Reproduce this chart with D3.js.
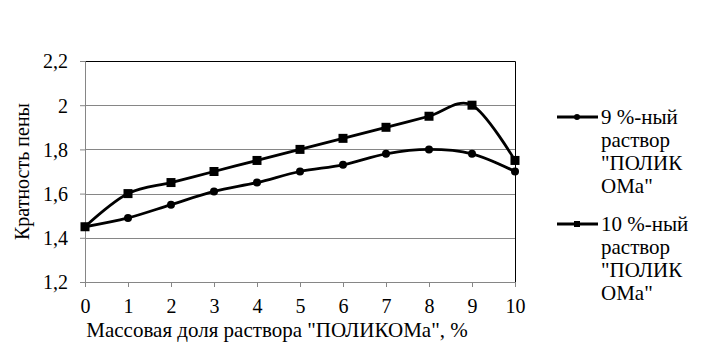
<!DOCTYPE html>
<html>
<head>
<meta charset="utf-8">
<script src="https://cdn.jsdelivr.net/npm/d3@7"></script>
</head>
<body style="margin:0">
<div id="chart"></div>
<script>
// chart data
const xValues = [0, 1, 2, 3, 4, 5, 6, 7, 8, 9, 10];
const series9 = [1.45, 1.49, 1.55, 1.61, 1.65, 1.70, 1.73, 1.78, 1.80, 1.78, 1.70];
const series10 = [1.45, 1.60, 1.65, 1.70, 1.75, 1.80, 1.85, 1.90, 1.95, 2.00, 1.75];
const yTicks = [1.2, 1.4, 1.6, 1.8, 2.0, 2.2];
const legendLabels = [
    ["9 %-ный", "раствор", "\"ПОЛИК", "ОМа\""],
    ["10 %-ный", "раствор", "\"ПОЛИК", "ОМа\""]
];

const serif = "Liberation Serif";

let margin = {left: 85, right: 193, top: 61, bottom: 78};
let width = 708 - margin.left - margin.right,
    height = 360 - margin.top - margin.bottom;

let svg = d3.select("#chart")
    .append("svg")
    .attr("width", 708)
    .attr("height", 360)
    .attr("font-family", serif);

svg.append("rect").attr("width", 708).attr("height", 360).attr("fill", "#fff");

let g = svg.append("g")
    .attr("transform", "translate(" + margin.left + ", " + margin.top + ")");

let x = d3.scaleLinear()
    .domain([0, 10])
    .range([0, width]);

let y = d3.scaleLinear()
    .domain([1.2, 2.2])
    .range([height, 0]);

let fmt = d => d3.format(".1f")(d).replace(".0", "").replace(".", ",");

// gridlines
g.selectAll(".grid")
    .data(yTicks.slice(1))
    .enter()
    .append("line")
    .attr("x1", 0)
    .attr("x2", width)
    .attr("y1", d => Math.round(y(d)) + 0.5)
    .attr("y2", d => Math.round(y(d)) + 0.5)
    .attr("stroke", "#868686")
    .attr("stroke-width", 1);

// plot border (top, right)
g.append("path")
    .attr("d", "M0.5,0.5H" + (width + 0.5) + "V" + height)
    .attr("fill", "none")
    .attr("stroke", "#000")
    .attr("stroke-width", 1);

let xAxis = g.append("g")
    .attr("transform", "translate(0," + height + ")")
    .call(d3.axisBottom(x).tickValues(xValues).tickSize(5).tickPadding(8));

let yAxis = g.append("g")
    .call(d3.axisLeft(y).tickValues(yTicks).tickSize(5).tickPadding(12).tickFormat(fmt));

[xAxis, yAxis].forEach(a => {
    a.attr("font-family", serif);
    a.select(".domain").attr("stroke", "#868686");
    a.selectAll(".tick line").attr("stroke", "#868686");
    a.selectAll("text")
        .attr("font-family", serif)
        .attr("font-size", "20px")
        .attr("fill", "#000");
});
xAxis.selectAll("text").attr("y", 31).attr("dy", 0);
yAxis.selectAll("text").attr("dy", "0.34em");

// axis titles
g.append("text")
    .attr("x", width / 2 - 23)
    .attr("y", height + 55)
    .attr("font-family", serif)
    .attr("font-size", "21px")
    .attr("text-anchor", "middle")
    .text("Массовая доля раствора \"ПОЛИКОМа\", %");

g.append("text")
    .attr("x", -(height / 2))
    .attr("y", -56)
    .attr("font-family", serif)
    .attr("font-size", "20px")
    .attr("text-anchor", "middle")
    .attr("transform", "rotate(-90)")
    .text("Кратность пены");

// lines
let line = d3.line()
    .x((d, i) => x(xValues[i]))
    .y(d => y(d))
    .curve(d3.curveCatmullRom.alpha(0));

[series9, series10].forEach(s => {
    g.append("path")
        .datum(s)
        .attr("fill", "none")
        .attr("stroke", "#000")
        .attr("stroke-width", 2.8)
        .attr("d", line);
});

g.selectAll(".dot9")
    .data(series9)
    .enter()
    .append("circle")
    .attr("cx", (d, i) => x(xValues[i]))
    .attr("cy", d => y(d))
    .attr("r", 4)
    .attr("fill", "#000");

g.selectAll(".sq10")
    .data(series10)
    .enter()
    .append("rect")
    .attr("x", (d, i) => x(xValues[i]) - 4.5)
    .attr("y", d => y(d) - 4.5)
    .attr("width", 9)
    .attr("height", 9)
    .attr("fill", "#000");

// legend
let legend = svg.append("g");
let legendTop = [117, 224];
legendLabels.forEach((lines, k) => {
    let ly = legendTop[k];
    legend.append("line")
        .attr("x1", 557).attr("x2", 598)
        .attr("y1", ly).attr("y2", ly)
        .attr("stroke", "#000")
        .attr("stroke-width", 2.8);
    if (k === 0) {
        legend.append("circle").attr("cx", 577).attr("cy", ly).attr("r", 3).attr("fill", "#000");
    } else {
        legend.append("rect").attr("x", 574).attr("y", ly - 3).attr("width", 6).attr("height", 6).attr("fill", "#000");
    }
    lines.forEach((t, j) => {
        legend.append("text")
            .attr("x", 601)
            .attr("y", ly + 7 + j * 23)
            .attr("font-family", serif)
            .attr("font-size", "21px")
            .text(t);
    });
});
</script>
</body>
</html>
